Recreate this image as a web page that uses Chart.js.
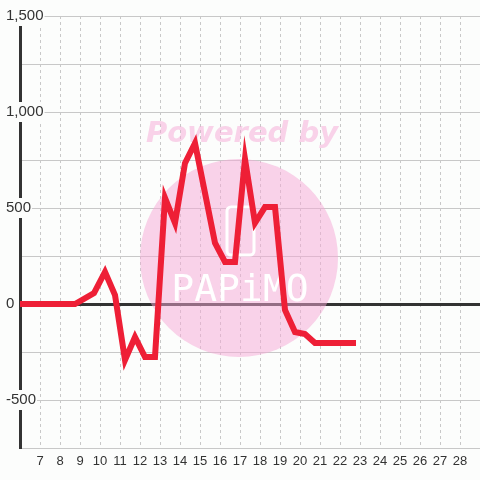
<!DOCTYPE html>
<html>
<head>
<meta charset="utf-8">
<script src="https://cdn.jsdelivr.net/npm/chart.js@4/dist/chart.umd.min.js"></script>
<style>
  html, body { margin: 0; padding: 0; background: #fcfdfc; }
  #wrap { width: 480px; height: 480px; }
</style>
</head>
<body>
<div id="wrap"><canvas id="lineChart" width="480" height="480"></canvas></div>
<script>
// hour of day (x) and value (y)
const hours = [6, 8.75, 9.7, 10.25, 10.75, 11.25, 11.75, 12.25, 12.75, 13.25, 13.75, 14.25, 14.75,
               15.75, 16.25, 16.75, 17.25, 17.75, 18.25, 18.75, 19.25, 19.75, 20.25, 20.75, 22.8];
const values = [0, 0, 57, 167, 47, -292, -172, -276, -276, 552, 422, 734, 838,
                318, 219, 219, 755, 422, 505, 505, -31, -146, -156, -203, -203];

const xMin = 6, xMax = 29;
const yMin = -750, yMax = 1500;
const yLabelValues = [-500, 0, 500, 1000, 1500];

const bg = "#fcfdfc";
const gridGray = "#c8c8c8";
const axisDark = "#333333";
const lineRed = "#ee1f36";

const points = hours.map((h, i) => ({ x: h, y: values[i] }));

// pink watermark behind the line
const watermark = {
    id: "watermark",
    beforeDatasetsDraw(chart) {
        const ctx = chart.ctx;
        ctx.save();
        ctx.fillStyle = "rgba(246, 168, 214, 0.5)";
        ctx.beginPath();
        ctx.arc(239, 258, 99, 0, Math.PI * 2);
        ctx.fill();

        ctx.font = "italic bold 29px 'DejaVu Sans'";
        ctx.textAlign = "center";
        ctx.textBaseline = "middle";
        ctx.fillText("Powered by", 242, 134);

        ctx.strokeStyle = "#ffffff";
        ctx.lineWidth = 3;
        ctx.beginPath();
        ctx.roundRect(227, 207, 27, 48, 4);
        ctx.stroke();

        ctx.fillStyle = "#ffffff";
        ctx.font = "38px 'DejaVu Sans Mono'";
        ctx.fillText("PAPiMO", 240, 291);
        ctx.restore();
    }
};

new Chart(document.getElementById("lineChart"), {
    type: "line",
    data: {
        datasets: [{
            data: points,
            borderColor: lineRed,
            borderWidth: 6,
            pointRadius: 0,
            tension: 0,
            fill: false
        }]
    },
    options: {
        responsive: false,
        animation: false,
        events: [],
        layout: { padding: { left: 6, top: 16, right: 0, bottom: 0 } },
        plugins: { legend: { display: false }, tooltip: { enabled: false } },
        scales: {
            x: {
                type: "linear",
                min: xMin,
                max: xMax,
                afterFit: (s) => { s.height = 32; s.paddingLeft = 0; s.paddingRight = 0; },
                ticks: {
                    stepSize: 1,
                    autoSkip: false,
                    maxRotation: 0,
                    color: axisDark,
                    font: { family: "'Liberation Sans', Arial", size: 13 },
                    padding: 6,
                    callback: (v) => (v === xMin || v === xMax) ? "" : String(v)
                },
                grid: { color: gridGray, lineWidth: 1, drawTicks: false },
                border: { display: false, dash: [3, 3] }
            },
            y: {
                min: yMin,
                max: yMax,
                afterFit: (s) => { s.width = 14; },
                ticks: {
                    stepSize: 250,
                    mirror: true,
                    padding: -14,
                    color: axisDark,
                    font: { family: "'Liberation Sans', Arial", size: 15 },
                    showLabelBackdrop: true,
                    backdropColor: bg,
                    backdropPadding: { top: 1, bottom: 1, left: 1, right: 1 },
                    callback: (v) => yLabelValues.includes(v) ? v.toLocaleString("en-US") : ""
                },
                grid: {
                    drawTicks: false,
                    color: (c) => c.tick && c.tick.value === 0 ? axisDark : gridGray,
                    lineWidth: (c) => c.tick && c.tick.value === 0 ? 3 : 1
                },
                border: { display: true, color: axisDark, width: 3 }
            }
        }
    },
    plugins: [watermark]
});
</script>
</body>
</html>
